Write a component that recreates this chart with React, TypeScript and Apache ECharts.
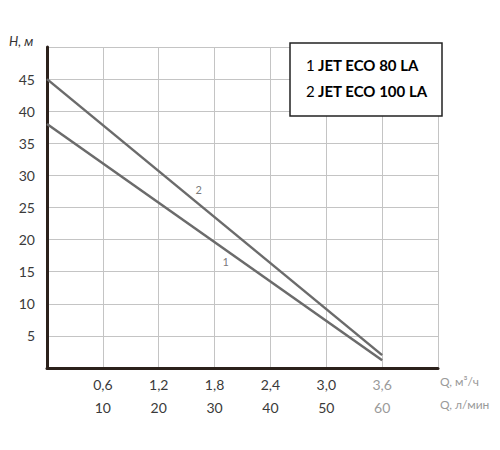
import { useEffect, useRef } from 'react'
import * as echarts from 'echarts'

// Pump curves H(Q), Q in m³/h
const pump1 = [[0, 38], [3.6, 1.2]]
const pump2 = [[0, 45], [3.6, 2]]
const curveTags = [
  { value: [1.92, 16.6], text: '1' },
  { value: [1.63, 27.8], text: '2' },
]
const flowM3h = [0.6, 1.2, 1.8, 2.4, 3.0, 3.6]
const flowLmin = ['10', '20', '30', '40', '50', '60']
const legendNames = ['JET ECO 80 LA', 'JET ECO 100 LA']

const FONT = 'Lato, "Open Sans", sans-serif'

export default function App() {
  const ref = useRef<HTMLDivElement>(null)

  useEffect(() => {
    if (!ref.current) return
    const chart = echarts.init(ref.current, undefined, { renderer: 'svg' })

    const fmtX = (v: number) => {
      const i = flowM3h.findIndex(f => Math.abs(f - v) < 1e-6)
      if (i < 0) return ''
      const top = v.toFixed(1).replace('.', ',')
      const style = i === flowM3h.length - 1 ? 'f' : 'n'
      return `{${style}|${top}}\n{${style}|${flowLmin[i]}}`
    }

    chart.setOption({
      animation: false,
      backgroundColor: '#fff',
      textStyle: { fontFamily: FONT },
      grid: { left: 47, right: 62, top: 47, bottom: 82 },
      xAxis: {
        type: 'value',
        min: 0,
        max: 4.2,
        interval: 0.6,
        axisLine: { show: true, onZero: false, lineStyle: { color: '#2b211b', width: 3 } },
        axisTick: { show: false },
        splitLine: { show: true, lineStyle: { color: '#c4c4c4', width: 1 } },
        axisLabel: {
          margin: 5,
          formatter: fmtX,
          rich: {
            n: { fontSize: 14, color: '#3a3a3a', lineHeight: 23, fontFamily: FONT },
            f: { fontSize: 14, color: '#9a9a9a', lineHeight: 23, fontFamily: FONT },
          },
        },
      },
      yAxis: {
        type: 'value',
        min: 0,
        max: 50,
        interval: 5,
        axisLine: { show: true, lineStyle: { color: '#2b211b', width: 3 } },
        axisTick: { show: false },
        splitLine: { show: true, lineStyle: { color: '#c4c4c4', width: 1 } },
        axisLabel: {
          margin: 12,
          fontSize: 14,
          color: '#3a3a3a',
          fontFamily: FONT,
          formatter: (v: number) => (v === 0 || v === 50 ? '' : String(v)),
        },
      },
      series: [
        {
          type: 'line',
          data: pump1,
          symbol: 'none',
          lineStyle: { color: '#6b6b6b', width: 2.5 },
        },
        {
          type: 'line',
          data: pump2,
          symbol: 'none',
          lineStyle: { color: '#6b6b6b', width: 2.5 },
        },
        {
          type: 'scatter',
          data: curveTags.map(t => ({ value: t.value, name: t.text })),
          symbolSize: 1,
          itemStyle: { color: 'rgba(0,0,0,0)' },
          label: {
            show: true,
            position: 'inside',
            formatter: (p: { name: string }) => p.name,
            fontSize: 11,
            color: '#555555',
            textBorderWidth: 0,
            fontFamily: FONT,
          },
        },
      ],
      graphic: [
        {
          type: 'text',
          left: 9,
          top: 34,
          style: { text: 'Н, м', fill: '#333', font: `italic 13px ${FONT}` },
        },
        {
          type: 'text',
          left: 440,
          top: 375,
          style: { text: 'Q, м³/ч', font: `12px ${FONT}`, fill: '#9a9a9a' },
        },
        {
          type: 'text',
          left: 440,
          top: 398,
          style: { text: 'Q, л/мин', font: `12px ${FONT}`, fill: '#9a9a9a' },
        },
        {
          type: 'rect',
          z: 100,
          shape: { x: 290, y: 43, width: 152, height: 73 },
          style: { fill: '#fff', stroke: '#222', lineWidth: 1.5 },
        },
        {
          type: 'text',
          z: 101,
          left: 306,
          top: 57,
          style: {
            text: legendNames.map((n, i) => `{num|${i + 1}} {name|${n}}`).join('\n'),
            rich: {
              num: { fontSize: 15, color: '#777', lineHeight: 26, fontFamily: FONT },
              name: { fontSize: 15, color: '#231a14', fontWeight: 'bold', lineHeight: 26, fontFamily: FONT },
            },
          },
        },
      ],
    })

    return () => chart.dispose()
  }, [])

  return <div ref={ref} style={{ position: 'fixed', left: 0, top: 0, width: 500, height: 450 }} />
}
